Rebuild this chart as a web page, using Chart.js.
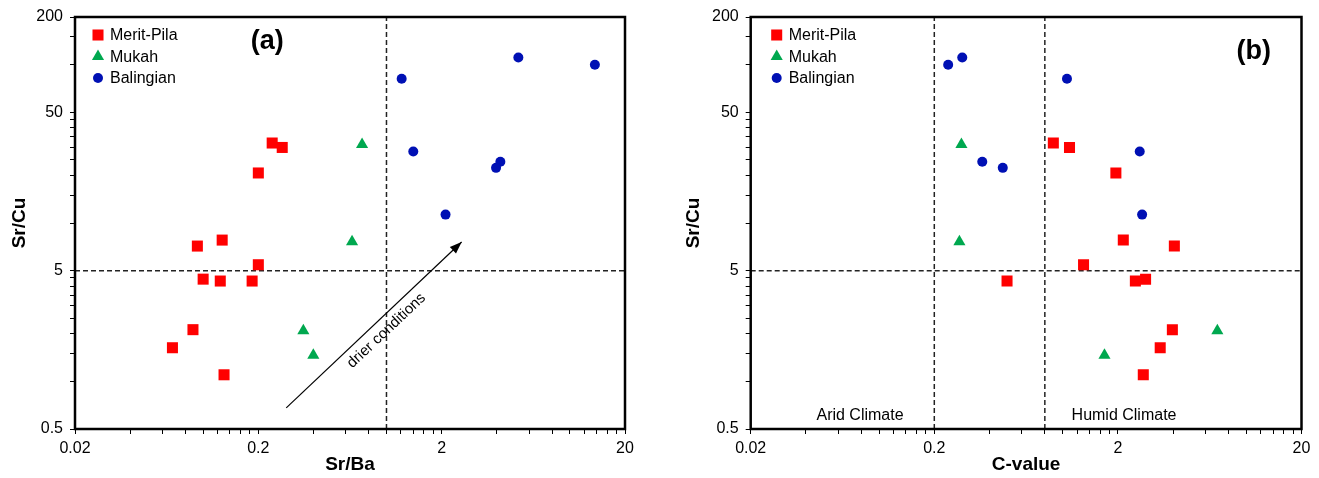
<!DOCTYPE html>
<html>
<head>
<meta charset="utf-8">
<script src="https://cdn.jsdelivr.net/npm/chart.js@4/dist/chart.umd.min.js"></script>
<style>
  body { margin: 0; background: #fff; }
  .panel { position: absolute; top: 0; }
</style>
</head>
<body>
<div class="panel" style="left:0"><canvas id="chart-a" width="660" height="478"></canvas></div>
<div class="panel" style="left:660px"><canvas id="chart-b" width="659" height="478"></canvas></div>
<script>
// groups
const groupNames = ['Merit-Pila', 'Mukah', 'Balingian'];

// Sr/Cu, same samples in both panels
const meritSrCu = [32.0, 30.0, 20.7, 7.8, 7.15, 5.45, 4.42, 4.3, 4.3, 2.12, 1.63, 1.10];
const mukahSrCu = [31.3, 7.6, 2.09, 1.46];
const balingianSrCu = [81.5, 111, 100, 28.3, 24.4, 22.3, 11.3];

// Sr/Ba (panel a)
const meritSrBa = [0.238, 0.270, 0.2, 0.127, 0.093, 0.2, 0.100, 0.124, 0.185, 0.088, 0.068, 0.130];
const mukahSrBa = [0.736, 0.649, 0.352, 0.399];
const balingianSrBa = [1.21, 5.24, 13.7, 1.40, 4.18, 3.96, 2.10];

// C-value (panel b)
const meritCValue = [0.89, 1.09, 1.95, 2.14, 4.06, 1.30, 2.83, 0.498, 2.49, 3.96, 3.40, 2.75];
const mukahCValue = [0.281, 0.274, 6.96, 1.69];
const balingianCValue = [1.056, 0.284, 0.238, 2.63, 0.365, 0.472, 2.71];

// reference lines
const srCuLimit = 5;
const srBaLimit = 1;
const cValueArid = 0.2;
const cValueHumid = 0.8;
const arrowStart = {x: 0.284, y: 0.68};
const arrowEnd = {x: 2.57, y: 7.58};

// axis ticks
const xTicks = [0.02, 0.04, 0.06, 0.08, 0.1, 0.12, 0.14, 0.16, 0.18,
                0.2, 0.4, 0.6, 0.8, 1, 1.2, 1.4, 1.6, 1.8,
                2, 4, 6, 8, 10, 12, 14, 16, 18, 20];
const xMajorTicks = [0.02, 0.2, 2, 20];
const xTickLabels = ['0.02', '0.2', '2', '20'];
const yTicks = [0.5, 1, 1.5, 2, 2.5, 3, 3.5, 4, 4.5,
                5, 10, 15, 20, 25, 30, 35, 40, 45,
                50, 100, 150, 200];
const yMajorTicks = [0.5, 5, 50, 200];
const yTickLabels = ['0.5', '5', '50', '200'];

const FONT = "'Liberation Sans', Arial, sans-serif";
Chart.defaults.font.family = FONT;
Chart.defaults.color = '#000';

const groupStyles = [
    {pointStyle: 'rect', radius: 7.8, color: '#ff0000'},
    {pointStyle: 'triangle', radius: 7, color: '#00a84f'},
    {pointStyle: 'circle', radius: 5, color: '#0010b4'}
];

function toPoints(xs, ys) {
    return xs.map((x, i) => ({x: x, y: ys[i]}));
}

function labelFor(value, majors, labels) {
    const i = majors.indexOf(value);
    return i >= 0 ? labels[i] : '';
}

function groupDatasets(xArrays, yArrays) {
    return groupNames.map((name, g) => ({
        label: name,
        data: toPoints(xArrays[g], yArrays[g]),
        pointStyle: groupStyles[g].pointStyle,
        pointRadius: groupStyles[g].radius,
        pointHoverRadius: groupStyles[g].radius,
        backgroundColor: groupStyles[g].color,
        borderColor: groupStyles[g].color,
        borderWidth: 0,
        inLegend: true
    }));
}

function refLine(points) {
    return {
        data: points,
        showLine: true,
        borderColor: '#222',
        borderWidth: 1.5,
        borderDash: [5, 3],
        pointRadius: 0,
        pointHoverRadius: 0,
        fill: false
    };
}

// frame, legend, arrowheads, text labels
function decorPlugin(cfg) {
    return {
        id: 'decor',
        afterDatasetsDraw(chart) {
            const {ctx, chartArea: a, scales} = chart;

            chart.data.datasets.forEach((ds, i) => {
                if (!ds.arrow) return;
                const pts = chart.getDatasetMeta(i).data;
                const p0 = pts[0], p1 = pts[pts.length - 1];
                const ang = Math.atan2(p1.y - p0.y, p1.x - p0.x);
                ctx.save();
                ctx.translate(p1.x, p1.y);
                ctx.rotate(ang);
                ctx.beginPath();
                ctx.moveTo(0, 0);
                ctx.lineTo(-12, -4.5);
                ctx.lineTo(-12, 4.5);
                ctx.closePath();
                ctx.fillStyle = '#000';
                ctx.fill();
                ctx.restore();
            });

            ctx.save();
            ctx.lineWidth = 2.5;
            ctx.strokeStyle = '#000';
            ctx.strokeRect(a.left, a.top, a.right - a.left, a.bottom - a.top);
            ctx.restore();

            // legend inside the plot
            let row = 0;
            chart.data.datasets.forEach(ds => {
                if (!ds.inLegend) return;
                const cx = a.left + cfg.legendDx;
                const cy = a.top + cfg.legendDy + row * 21.5;
                ctx.save();
                ctx.fillStyle = ds.backgroundColor;
                Chart.helpers.drawPoint(ctx, {
                    pointStyle: ds.pointStyle, radius: ds.pointRadius, rotation: 0, borderWidth: 0
                }, cx, cy);
                ctx.fillStyle = '#000';
                ctx.font = '16px ' + FONT;
                ctx.textAlign = 'left';
                ctx.textBaseline = 'middle';
                ctx.fillText(ds.label, cx + 12, cy + 1);
                ctx.restore();
                row++;
            });

            cfg.texts.forEach(t => {
                const px = scales.x.getPixelForValue(t.x);
                const py = scales.y.getPixelForValue(t.y);
                ctx.save();
                ctx.translate(px, py);
                ctx.rotate((t.rotation || 0) * Math.PI / 180);
                ctx.font = t.font;
                ctx.fillStyle = '#000';
                ctx.textAlign = 'center';
                ctx.textBaseline = 'middle';
                ctx.fillText(t.text, 0, 0);
                ctx.restore();
            });
        }
    };
}

function makeChart(id, cfg) {
    const ctx = document.getElementById(id).getContext('2d');
    return new Chart(ctx, {
        type: 'scatter',
        data: {datasets: cfg.datasets},
        options: {
            responsive: false,
            devicePixelRatio: 1,
            animation: false,
            events: [],
            layout: {padding: {left: 0, right: cfg.padRight, top: 17, bottom: 0}},
            plugins: {
                legend: {display: false},
                tooltip: {enabled: false}
            },
            scales: {
                x: {
                    type: 'logarithmic',
                    min: 0.02,
                    max: 20,
                    afterBuildTicks: s => { s.ticks = xTicks.map(v => ({value: v})); },
                    afterFit: s => { s.height = 49; },
                    ticks: {
                        autoSkip: false,
                        maxRotation: 0,
                        padding: 5,
                        font: {size: 16},
                        color: '#000',
                        callback: v => labelFor(v, xMajorTicks, xTickLabels)
                    },
                    grid: {drawOnChartArea: false, tickLength: 5, color: '#000', lineWidth: 1},
                    border: {display: false},
                    title: {
                        display: true,
                        text: cfg.xTitle,
                        font: {size: 19, weight: 'bold'},
                        color: '#000',
                        padding: {top: 0, bottom: 2}
                    }
                },
                y: {
                    type: 'logarithmic',
                    min: 0.5,
                    max: 200,
                    afterBuildTicks: s => { s.ticks = yTicks.map(v => ({value: v})); },
                    afterFit: s => { s.width = cfg.yWidth; },
                    ticks: {
                        autoSkip: false,
                        padding: 7,
                        font: {size: 16},
                        color: '#000',
                        callback: v => labelFor(v, yMajorTicks, yTickLabels)
                    },
                    grid: {drawOnChartArea: false, tickLength: 5, color: '#000', lineWidth: 1},
                    border: {display: false},
                    title: {
                        display: true,
                        text: 'Sr/Cu',
                        font: {size: 19, weight: 'bold'},
                        color: '#000',
                        padding: {top: cfg.yTitlePad, bottom: 0}
                    }
                }
            }
        },
        plugins: [decorPlugin(cfg)]
    });
}

const srCuGroups = [meritSrCu, mukahSrCu, balingianSrCu];

makeChart('chart-a', {
    xTitle: 'Sr/Ba',
    yWidth: 75,
    padRight: 35,
    yTitlePad: 8,
    legendDx: 23,
    legendDy: 18,
    datasets: groupDatasets([meritSrBa, mukahSrBa, balingianSrBa], srCuGroups).concat([
        Object.assign(refLine([arrowStart, arrowEnd]), {borderDash: [], borderColor: '#000', borderWidth: 1.2, arrow: true}),
        refLine([{x: 0.02, y: srCuLimit}, {x: 20, y: srCuLimit}]),
        refLine([{x: srBaLimit, y: 0.5}, {x: srBaLimit, y: 200}])
    ]),
    texts: [
        {text: '(a)', x: 0.224, y: 140, font: 'bold 27px ' + FONT},
        {text: 'drier conditions', x: 1.0, y: 2.09, rotation: -43.3, font: '15px ' + FONT}
    ]
});

makeChart('chart-b', {
    xTitle: 'C-value',
    yWidth: 90.7,
    padRight: 17.5,
    yTitlePad: 22,
    legendDx: 26,
    legendDy: 18,
    datasets: groupDatasets([meritCValue, mukahCValue, balingianCValue], srCuGroups).concat([
        refLine([{x: 0.02, y: srCuLimit}, {x: 20, y: srCuLimit}]),
        refLine([{x: cValueArid, y: 0.5}, {x: cValueArid, y: 200}]),
        refLine([{x: cValueHumid, y: 0.5}, {x: cValueHumid, y: 200}])
    ]),
    texts: [
        {text: '(b)', x: 11.0, y: 121, font: 'bold 27px ' + FONT},
        {text: 'Arid Climate', x: 0.0788, y: 0.612, font: '16px ' + FONT},
        {text: 'Humid Climate', x: 2.16, y: 0.612, font: '16px ' + FONT}
    ]
});
</script>
</body>
</html>
